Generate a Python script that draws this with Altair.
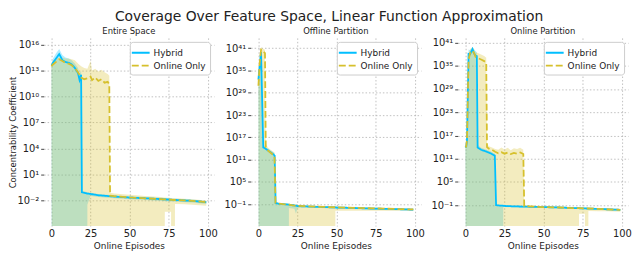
import altair as alt
import pandas as pd

TITLE = "Coverage Over Feature Space, Linear Function Approximation"
PANEL_TITLES = ["Entire Space", "Offline Partition", "Online Partition"]
SERIES = ["Hybrid", "Online Only"]
X_TICKS = [0, 25, 50, 75, 100]
Y_TICK_EXP = [[-2, 1, 4, 7, 10, 13, 16],
              [-1, 5, 11, 17, 23, 29, 35, 41],
              [-1, 5, 11, 17, 23, 29, 35, 41]]
Y_DOMAIN_EXP = [[-4.96, 16.77], [-6.9, 43.8], [-6.4, 42.2]]
F = None  # lower confidence bound at or below zero (fills to the bottom)

# values are log10 of the concentrability coefficient
# ---- Entire Space ----
P1_H_EP = [0, 0.6, 1, 3, 5, 7, 9, 11, 13, 15, 17, 18, 19, 19.5, 22, 22.9, 23, 25, 30, 40, 50, 60, 70, 80, 90, 99]
P1_H_MEAN = [13.6, 13.7, 13.9, 14.4, 14.9, 14.2, 14.0, 13.9, 13.7, 13.3, 12.7, 11.9, 12.5, -1.05, -1.15, -1.2, -1.2, -1.25, -1.4, -1.55, -1.67, -1.75, -1.85, -1.95, -2.05, -2.2]
P1_H_UP = [13.8, 13.9, 14.4, 15.0, 15.5, 14.8, 14.5, 14.4, 14.2, 13.8, 13.3, 12.6, 13.0, -0.9, -1.0, -1.05, -1.05, -1.1, -1.25, -1.4, -1.52, -1.6, -1.7, -1.8, -1.9, -2.05]
P1_H_LO = [13.3, F, F, F, F, F, F, F, F, F, F, F, F, F, F, F, -2.5, -1.5, -1.6, -1.75, -1.85, -1.95, -2.05, -2.15, -2.25, -2.4]

P1_O_EP = [0, 1, 3, 5, 7, 9, 11, 13, 15, 17, 19, 21, 23, 25, 26, 28, 30, 32, 34, 36, 37, 37.5, 40, 50, 60, 70, 72, 72.5, 76.5, 77, 78.5, 79, 85, 90, 99]
P1_O_MEAN = [13.5, 13.7, 14.0, 14.3, 14.1, 13.9, 13.8, 13.6, 13.3, 12.8, 12.2, 12.0, 12.1, 12.3, 11.9, 12.2, 11.8, 12.0, 11.6, 11.7, 11.4, -1.45, -1.5, -1.65, -1.75, -1.85, -1.87, -1.87, -1.92, -1.93, -1.95, -1.95, -2.0, -2.05, -2.2]
P1_O_UP = [13.8, 14.2, 14.4, 14.5, 14.5, 14.4, 14.4, 14.3, 14.2, 13.8, 13.5, 13.3, 13.2, 14.1, 13.0, 13.2, 12.9, 13.1, 12.8, 12.6, 12.4, -1.1, -1.2, -1.35, -1.5, -1.6, -1.65, -1.65, -1.72, -1.73, -1.75, -1.75, -1.8, -1.85, -2.0]
P1_O_LO = [13.2, F, F, F, F, F, F, F, F, F, F, F, F, F, F, F, F, F, F, F, F, F, F, F, F, F, F, -3.3, -3.3, F, F, -2.4, -2.45, -2.5, -2.6]

# ---- Offline Partition ----
P2_H_EP = [0, 0.3, 1, 1.7, 3.1, 5, 7, 9, 10.4, 11, 13, 16, 19, 19.3, 19.5, 23, 24, 25, 30, 40, 50, 60, 70, 80, 90, 99]
P2_H_MEAN = [32.6, 34, 37, 40.0, 14.3, 13.8, 13.2, 12.6, 12.1, -0.7, -0.9, -1.0, -1.1, -1.1, -1.12, -1.35, -1.4, -1.5, -1.6, -1.75, -1.9, -2.0, -2.15, -2.25, -2.35, -2.46]
P2_H_UP = [33.5, 35.5, 38.5, 40.8, 15.0, 14.3, 13.7, 13.1, 12.7, -0.4, -0.7, -0.8, -0.9, -0.9, -0.92, -1.15, -1.2, -1.3, -1.4, -1.55, -1.7, -1.8, -1.95, -2.05, -2.15, -2.26]
P2_H_LO = [31.5, F, F, F, F, F, F, F, F, F, F, F, F, F, -2.0, -2.2, -3.6, -2.0, -1.9, -2.05, -2.2, -2.3, -2.45, -2.55, -2.65, -2.76]

P2_O_EP = [0, 0.3, 0.8, 1.7, 2.5, 4.2, 4.7, 6, 8, 10.3, 10.9, 13, 16, 19, 22, 25, 30, 40, 48.8, 49.2, 50, 60, 70, 80, 90, 99]
P2_O_MEAN = [30.9, 33, 37, 40.6, 40.3, 39.7, 14.4, 13.5, 12.8, 12.0, -0.6, -0.85, -1.0, -1.1, -1.3, -1.45, -1.55, -1.7, -1.83, -1.84, -1.85, -1.97, -2.1, -2.2, -2.32, -2.42]
P2_O_UP = [32, 35, 39, 41.3, 41.0, 40.6, 15.3, 14.3, 13.6, 12.9, -0.3, -0.6, -0.75, -0.85, -1.05, -1.2, -1.3, -1.45, -1.58, -1.59, -1.6, -1.72, -1.85, -1.95, -2.07, -2.17]
P2_O_LO = [29.8, F, F, F, F, F, F, F, F, F, F, F, F, F, F, F, F, F, F, -2.8, -2.8, -2.8, -2.8, -2.75, -2.75, -2.75]

# ---- Online Partition ----
P3_H_EP = [0, 0.5, 1, 2, 3, 4.5, 5.5, 6.5, 7.3, 7.8, 10, 13, 16, 18.8, 19.6, 22, 23.9, 24.2, 25, 30, 40, 50, 60, 70, 80, 90, 99]
P3_H_MEAN = [13.9, 14.2, 15.5, 38.1, 38.0, 39.3, 38.2, 37.6, 37.5, 13.9, 13.3, 12.9, 12.4, 11.8, -1.0, -1.1, -1.15, -1.15, -1.2, -1.3, -1.4, -1.5, -1.6, -1.75, -1.9, -2.05, -2.2]
P3_H_UP = [14.2, 14.6, 17, 39.2, 39.0, 39.8, 39.2, 38.8, 38.5, 14.6, 13.8, 13.4, 12.9, 12.3, -0.8, -0.9, -0.95, -0.95, -1.0, -1.1, -1.2, -1.3, -1.4, -1.55, -1.7, -1.85, -2.0]
P3_H_LO = [13.6, F, F, F, F, F, F, F, F, F, F, F, F, F, F, F, F, -1.4, -1.45, -1.55, -1.65, -1.75, -1.85, -2.0, -2.15, -2.3, -2.45]

P3_O_EP = [0, 0.5, 1, 2, 3, 4.5, 5.5, 6.5, 8, 10, 12, 13.3, 13.8, 15, 17, 19, 21, 23, 25, 27, 29, 31, 33, 35, 37, 37.6, 40, 50, 60, 70, 72.4, 72.6, 76.4, 76.6, 78.4, 78.6, 85, 90, 99]
P3_O_MEAN = [13.9, 14.1, 16, 36.5, 38.3, 38.9, 38.3, 37.3, 37.0, 36.6, 36.2, 35.8, 14.0, 13.6, 13.3, 12.8, 12.4, 12.7, 12.3, 12.6, 12.2, 12.5, 12.3, 12.6, 12.2, -1.25, -1.3, -1.5, -1.6, -1.75, -1.78, -1.78, -1.83, -1.83, -1.86, -1.86, -1.95, -2.05, -2.2]
P3_O_UP = [14.2, 14.5, 18, 38.0, 39.3, 39.8, 39.3, 38.5, 38.3, 37.9, 37.5, 37.1, 14.8, 14.2, 13.9, 13.5, 13.3, 13.9, 13.4, 13.8, 13.2, 13.7, 13.5, 13.8, 13.3, -1.0, -1.05, -1.25, -1.35, -1.5, -1.53, -1.53, -1.58, -1.58, -1.61, -1.61, -1.7, -1.8, -1.95]
P3_O_LO = [13.6, F, F, F, F, F, F, F, F, F, F, F, F, F, F, F, F, F, F, F, F, F, F, F, F, F, F, F, F, F, F, -3.2, -3.2, F, F, -2.5, -2.55, -2.6, -2.7]

PANELS = [
    [(P1_H_EP, P1_H_MEAN, P1_H_UP, P1_H_LO), (P1_O_EP, P1_O_MEAN, P1_O_UP, P1_O_LO)],
    [(P2_H_EP, P2_H_MEAN, P2_H_UP, P2_H_LO), (P2_O_EP, P2_O_MEAN, P2_O_UP, P2_O_LO)],
    [(P3_H_EP, P3_H_MEAN, P3_H_UP, P3_H_LO), (P3_O_EP, P3_O_MEAN, P3_O_UP, P3_O_LO)],
]

BLUE = "#00bfff"
YELLOW = "#d6c02c"
FLOOR_EXP = -60

SUP = str.maketrans("-0123456789", "⁻⁰¹²³⁴⁵⁶⁷⁸⁹")


def sup(e):
    return "10" + str(e).translate(SUP)


def label_expr(exps):
    expr = "''"
    for e in exps:
        expr = f"round(log(datum.value)/LN10) == {e} ? '{sup(e)}' : " + expr
    return expr


def build_df(series_list):
    rows = []
    for name, (ep, mean, up, lo) in zip(SERIES, series_list):
        for a, m, u, l in zip(ep, mean, up, lo):
            rows.append({
                "series": name,
                "ep": a,
                "mean": 10.0 ** m,
                "upper": 10.0 ** u,
                "lower": 10.0 ** (FLOOR_EXP if l is None else l),
            })
    return pd.DataFrame(rows)


W, H = 172, 190


def panel(i):
    df = build_df(PANELS[i])
    lo, hi = Y_DOMAIN_EXP[i]
    xs = alt.Scale(domain=[-4.95, 103.95], nice=False, zero=False)
    ys = alt.Scale(type="log", domain=[10.0 ** lo, 10.0 ** hi], nice=False)
    x_axis = alt.Axis(values=X_TICKS, title="Online Episodes", ticks=False,
                      labelPadding=3, titlePadding=3)
    y_kwargs = dict(values=[10.0 ** e for e in Y_TICK_EXP[i]],
                    labelExpr=label_expr(Y_TICK_EXP[i]),
                    tickSize=3, labelPadding=2)
    if i == 0:
        y_axis = alt.Axis(title="Concentrability Coefficient", titlePadding=1,
                          titleFontSize=8.5, minExtent=25, maxExtent=25, **y_kwargs)
    else:
        y_axis = alt.Axis(title=None, **y_kwargs)

    base = alt.Chart(df)
    area_h = base.transform_filter(alt.datum.series == "Hybrid").mark_area(
        clip=True, color=BLUE, opacity=0.3
    ).encode(
        x=alt.X("ep:Q", scale=xs, axis=x_axis),
        y=alt.Y("upper:Q", scale=ys, axis=y_axis),
        y2="lower:Q",
    )
    area_o = base.transform_filter(alt.datum.series == "Online Only").mark_area(
        clip=True, color=YELLOW, opacity=0.3
    ).encode(
        x=alt.X("ep:Q", scale=xs),
        y=alt.Y("upper:Q", scale=ys),
        y2="lower:Q",
    )
    leg = dict(title=None, orient="top-right", offset=4, fillColor="white",
               strokeColor="#cccccc", padding=4, cornerRadius=3,
               labelFontSize=9, labelColor="#222222",
               symbolType="M-1.5,0H1.5", symbolSize=144,
               symbolStrokeWidth=2, rowPadding=1, labelOffset=6)
    lines = base.mark_line(clip=True, strokeWidth=1.8).encode(
        x=alt.X("ep:Q", scale=xs),
        y=alt.Y("mean:Q", scale=ys),
        color=alt.Color("series:N", scale=alt.Scale(domain=SERIES, range=[BLUE, YELLOW]),
                        legend=alt.Legend(**leg)),
        strokeDash=alt.StrokeDash("series:N",
                                  scale=alt.Scale(domain=SERIES, range=[[1, 0], [7, 3]]),
                                  legend=alt.Legend(**leg)),
    )
    return alt.layer(area_h, area_o, lines).properties(
        width=W, height=H,
        title=alt.TitleParams(PANEL_TITLES[i], fontSize=8.5, fontWeight="normal",
                              offset=2, color="#222222"),
    )


chart = alt.hconcat(panel(0), panel(1), panel(2), spacing=37, bounds="flush").resolve_scale(
    y="independent", color="independent", strokeDash="independent"
).resolve_legend(
    color="independent", strokeDash="independent"
).properties(
    title=alt.TitleParams(TITLE, fontSize=14, fontWeight="normal", anchor="middle",
                          offset=3, dx=9, color="#222222"),
    padding={"left": 0, "top": 0, "right": 0, "bottom": 0},
).configure(
    font="DejaVu Sans"
).configure_axis(
    grid=True, gridColor="#b0b0b0", gridDash=[1.5, 2], gridWidth=0.8,
    domain=False, tickColor="#444444", labelFontSize=10, labelColor="#222222",
    titleFontSize=9, titleFontWeight="normal", titleColor="#222222",
).configure_view(stroke="transparent")

chart.save("out.html", embed_options={"renderer": "svg", "actions": False})
